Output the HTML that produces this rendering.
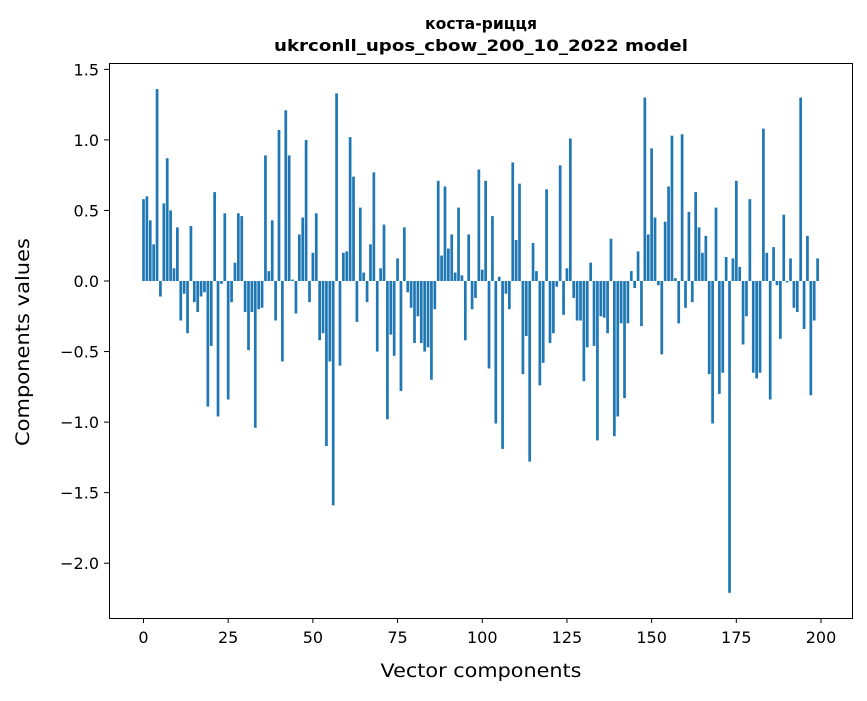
<!DOCTYPE html>
<html><head><meta charset="utf-8"><style>
body{margin:0;background:#fff;}
svg text{font-family:"DejaVu Sans","Liberation Sans",sans-serif;fill:#000;}
</style></head><body>
<svg id="chart" width="867" height="696" xmlns="http://www.w3.org/2000/svg">
<rect width="867" height="696" fill="#fff"/>
<text x="481" y="29" text-anchor="middle" font-size="16" font-weight="bold" textLength="112" lengthAdjust="spacingAndGlyphs">коста-рицця</text>
<text x="481" y="51" text-anchor="middle" font-size="16" font-weight="bold" textLength="414" lengthAdjust="spacingAndGlyphs">ukrconll_upos_cbow_200_10_2022 model</text>
<g id="bars"></g>
<g id="xticks"></g>
<g id="yticks"></g>
<rect x="109.5" y="63.5" width="743" height="555" fill="none" stroke="#000" stroke-width="1"/>
<text x="481" y="677" text-anchor="middle" font-size="19" textLength="201" lengthAdjust="spacingAndGlyphs">Vector components</text>
<text x="29" y="342" text-anchor="middle" font-size="19" textLength="208" lengthAdjust="spacingAndGlyphs" transform="rotate(-90 29 342)">Components values</text>
</svg>
<script>
const values = [0.58,0.60,0.43,0.26,1.36,-0.11,0.55,0.87,0.50,0.09,
0.38,-0.28,-0.09,-0.37,0.39,-0.15,-0.22,-0.11,-0.08,-0.89,
-0.46,0.63,-0.96,-0.02,0.48,-0.84,-0.15,0.13,0.48,0.46,
-0.22,-0.49,-0.22,-1.04,-0.20,-0.19,0.89,0.07,0.43,-0.28,
1.07,-0.57,1.21,0.89,0.01,-0.23,0.33,0.45,1.00,-0.15,
0.20,0.48,-0.42,-0.37,-1.17,-0.57,-1.59,1.33,-0.60,0.20,
0.21,1.02,0.74,-0.29,0.52,0.06,-0.15,0.26,0.77,-0.50,
0.09,0.40,-0.98,-0.38,-0.53,0.16,-0.78,0.38,-0.08,-0.19,
-0.44,-0.25,-0.44,-0.50,-0.47,-0.70,-0.20,0.71,0.18,0.67,
0.23,0.33,0.06,0.52,0.04,-0.42,0.33,-0.20,-0.12,0.79,
0.08,0.71,-0.62,0.46,-1.01,0.03,-1.19,-0.09,-0.20,0.84,
0.29,0.69,-0.66,-0.39,-1.28,0.27,0.07,-0.74,-0.58,0.65,
-0.44,-0.37,-0.04,0.82,-0.24,0.09,1.01,-0.12,-0.28,-0.28,
-0.71,-0.47,0.13,-0.46,-1.13,-0.25,-0.26,-0.37,0.30,-1.10,
-0.96,-0.30,-0.83,-0.30,0.07,-0.05,0.21,-0.32,1.30,0.33,
0.94,0.45,-0.03,-0.52,0.42,0.67,1.03,0.02,-0.30,1.04,
-0.19,0.49,-0.15,0.63,0.38,0.20,0.32,-0.66,-1.01,0.52,
-0.80,-0.65,0.17,-2.21,0.16,0.71,0.10,-0.45,-0.25,0.58,
-0.65,-0.69,-0.65,1.08,0.20,-0.84,0.24,-0.03,-0.41,0.47,
-0.01,0.16,-0.19,-0.22,1.30,-0.34,0.32,-0.81,-0.28,0.16];
const xTickLabels = [0,25,50,75,100,125,150,175,200];
const yTickLabels = [-2.0,-1.5,-1.0,-0.5,0.0,0.5,1.0,1.5];

const NS = "http://www.w3.org/2000/svg";
function xScale(i){ return 143.5 + i * 3.3875; }
function yScale(v){ return 281 - v * 141.1; }
const bars = document.getElementById('bars');
values.forEach((v, i) => {
  const r = document.createElementNS(NS, 'rect');
  
  
  const y0 = yScale(0), y1 = yScale(v);
  r.setAttribute('x', xScale(i) - 1.35);
  r.setAttribute('width', 2.7);
  r.setAttribute('y', Math.min(y0, y1));
  r.setAttribute('height', Math.abs(y1 - y0));
  r.setAttribute('fill', '#1f77b4');
  bars.appendChild(r);
});
const xg = document.getElementById('xticks');
xTickLabels.forEach(t => {
  const x = xScale(t);
  const l = document.createElementNS(NS, 'line');
  
  
  l.setAttribute('x1', x); l.setAttribute('x2', x);
  l.setAttribute('y1', 618); l.setAttribute('y2', 623);
  l.setAttribute('stroke', '#000');
  xg.appendChild(l);
  const tx = document.createElementNS(NS, 'text');
  
  
  tx.setAttribute('x', x); tx.setAttribute('y', 643);
  tx.setAttribute('text-anchor', 'middle');
  tx.setAttribute('font-size', '16');
  tx.textContent = String(t);
  xg.appendChild(tx);
});
const yg = document.getElementById('yticks');
yTickLabels.forEach(t => {
  const y = yScale(t);
  const l = document.createElementNS(NS, 'line');
  
  
  l.setAttribute('x1', 104); l.setAttribute('x2', 109);
  l.setAttribute('y1', y); l.setAttribute('y2', y);
  l.setAttribute('stroke', '#000');
  yg.appendChild(l);
  const tx = document.createElementNS(NS, 'text');
  
  
  tx.setAttribute('x', 99); tx.setAttribute('y', y + 6);
  tx.setAttribute('text-anchor', 'end');
  tx.setAttribute('font-size', '16');
  tx.textContent = t < 0 ? '\u2212' + Math.abs(t).toFixed(1) : t.toFixed(1);
  yg.appendChild(tx);
});
</script>
</body></html>
